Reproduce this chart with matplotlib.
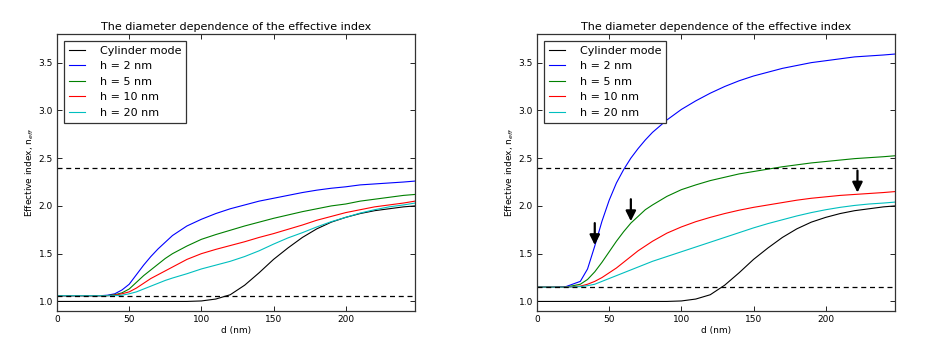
import numpy as np
import matplotlib
matplotlib.use("Agg")
import matplotlib.pyplot as plt

# -------------------------
# Data
# -------------------------
d = [0, 10, 20, 30, 35, 40, 45, 50, 55, 60, 65, 70, 75, 80, 90, 100, 110, 120,
     130, 140, 150, 160, 170, 180, 190, 200, 210, 220, 230, 240, 248]

cylinder = [1.0, 1.0, 1.0, 1.0, 1.0, 1.0, 1.0, 1.0, 1.0, 1.0, 1.0, 1.0, 1.0, 1.0,
            1.0, 1.005, 1.025, 1.07, 1.17, 1.30, 1.44, 1.56, 1.67, 1.76, 1.83,
            1.88, 1.92, 1.95, 1.97, 1.99, 2.00]

# left panel
left_h2 = [1.06, 1.06, 1.06, 1.06, 1.065, 1.08, 1.12, 1.18, 1.28, 1.38, 1.47, 1.55,
           1.62, 1.69, 1.79, 1.86, 1.92, 1.97, 2.01, 2.05, 2.08, 2.11, 2.14, 2.165,
           2.185, 2.20, 2.22, 2.23, 2.24, 2.25, 2.26]
left_h5 = [1.06, 1.06, 1.06, 1.06, 1.062, 1.07, 1.09, 1.13, 1.20, 1.27, 1.33, 1.39,
           1.45, 1.50, 1.58, 1.65, 1.70, 1.745, 1.79, 1.83, 1.87, 1.905, 1.94, 1.97,
           2.00, 2.02, 2.05, 2.07, 2.09, 2.11, 2.12]
left_h10 = [1.06, 1.06, 1.06, 1.06, 1.06, 1.065, 1.08, 1.10, 1.14, 1.19, 1.24, 1.28,
            1.32, 1.36, 1.44, 1.50, 1.545, 1.585, 1.625, 1.67, 1.71, 1.755, 1.80, 1.85,
            1.89, 1.93, 1.96, 1.99, 2.01, 2.03, 2.05]
left_h20 = [1.06, 1.06, 1.06, 1.06, 1.06, 1.06, 1.065, 1.08, 1.10, 1.13, 1.16, 1.19,
            1.22, 1.245, 1.29, 1.34, 1.38, 1.42, 1.47, 1.53, 1.60, 1.665, 1.72, 1.78,
            1.835, 1.88, 1.925, 1.96, 1.99, 2.01, 2.03]

# right panel
right_h2 = [1.15, 1.15, 1.155, 1.21, 1.34, 1.58, 1.84, 2.06, 2.24, 2.38, 2.50, 2.60,
            2.69, 2.77, 2.90, 3.01, 3.10, 3.18, 3.25, 3.31, 3.36, 3.40, 3.44, 3.47,
            3.50, 3.52, 3.54, 3.56, 3.57, 3.58, 3.59]
right_h5 = [1.15, 1.15, 1.15, 1.18, 1.23, 1.31, 1.41, 1.52, 1.63, 1.73, 1.82, 1.89,
            1.96, 2.01, 2.10, 2.17, 2.22, 2.265, 2.30, 2.335, 2.36, 2.385, 2.41, 2.43,
            2.45, 2.465, 2.48, 2.495, 2.505, 2.515, 2.525]
right_h10 = [1.15, 1.15, 1.15, 1.16, 1.18, 1.21, 1.25, 1.30, 1.35, 1.41, 1.47, 1.53,
             1.58, 1.63, 1.715, 1.78, 1.835, 1.88, 1.92, 1.955, 1.985, 2.01, 2.035, 2.06,
             2.08, 2.095, 2.11, 2.12, 2.13, 2.14, 2.15]
right_h20 = [1.15, 1.15, 1.15, 1.155, 1.165, 1.18, 1.21, 1.24, 1.27, 1.30, 1.33, 1.36,
             1.39, 1.42, 1.47, 1.52, 1.57, 1.62, 1.67, 1.72, 1.77, 1.815, 1.855, 1.895,
             1.93, 1.96, 1.985, 2.005, 2.02, 2.03, 2.04]

labels = ["Cylinder mode", "h = 2 nm", "h = 5 nm", "h = 10 nm", "h = 20 nm"]
colors = ["k", "b", "g", "r", "c"]

left_dashes = [2.4, 1.06]
right_dashes = [2.4, 1.15]

# arrows in right panel: (d, tail value, tip value)
arrows = [(40, 1.82, 1.59), (65, 2.07, 1.84), (222, 2.37, 2.14)]

# -------------------------
# Plotting
# -------------------------
plt.rcParams['font.family'] = ['DejaVu Sans']

fig = plt.figure(figsize=(9.41, 3.46), dpi=100)
ax1 = fig.add_axes([0.0606, 0.1012, 0.3804, 0.8006])
ax2 = fig.add_axes([0.5707, 0.1012, 0.3804, 0.8006])

panels = [(ax1, [cylinder, left_h2, left_h5, left_h10, left_h20], left_dashes),
          (ax2, [cylinder, right_h2, right_h5, right_h10, right_h20], right_dashes)]

for ax, series, dashes in panels:
    for y, lab, col in zip(series, labels, colors):
        ax.plot(d, y, color=col, lw=0.8, label=lab)
    for yv in dashes:
        ax.axhline(yv, color='k', ls='--', lw=0.9, dashes=(4, 3))
    ax.set_xlim(0, 248)
    ax.set_ylim(0.9, 3.8)
    ax.set_xticks([0, 50, 100, 150, 200])
    ax.set_yticks([1.0, 1.5, 2.0, 2.5, 3.0, 3.5])
    ax.tick_params(direction='in', top=True, right=True, length=3.5,
                   width=0.6, labelsize=6.5, pad=3)
    for sp in ax.spines.values():
        sp.set_linewidth(0.9)
        sp.set_color('#333333')
    ax.set_title("The diameter dependence of the effective index",
                 fontsize=8, pad=3)
    ax.set_xlabel("d (nm)", fontsize=6.5, labelpad=1)
    ax.set_ylabel("Effective index, n$_{eff}$", fontsize=6.5, labelpad=2)
    leg = ax.legend(loc='upper left', fontsize=8, fancybox=False,
                    edgecolor='#333333', framealpha=1, labelspacing=0.5,
                    handlelength=1.5, handletextpad=1.3, borderpad=0.45,
                    borderaxespad=0.6)
    leg.get_frame().set_linewidth(0.9)

for x, y0, y1 in arrows:
    ax2.annotate('', xy=(x, y1), xytext=(x, y0),
                 arrowprops=dict(arrowstyle='-|>,head_width=0.3,head_length=0.6',
                                 color='k', lw=1.6, shrinkA=0, shrinkB=0))

fig.savefig("out.png", dpi=100, facecolor='white')
